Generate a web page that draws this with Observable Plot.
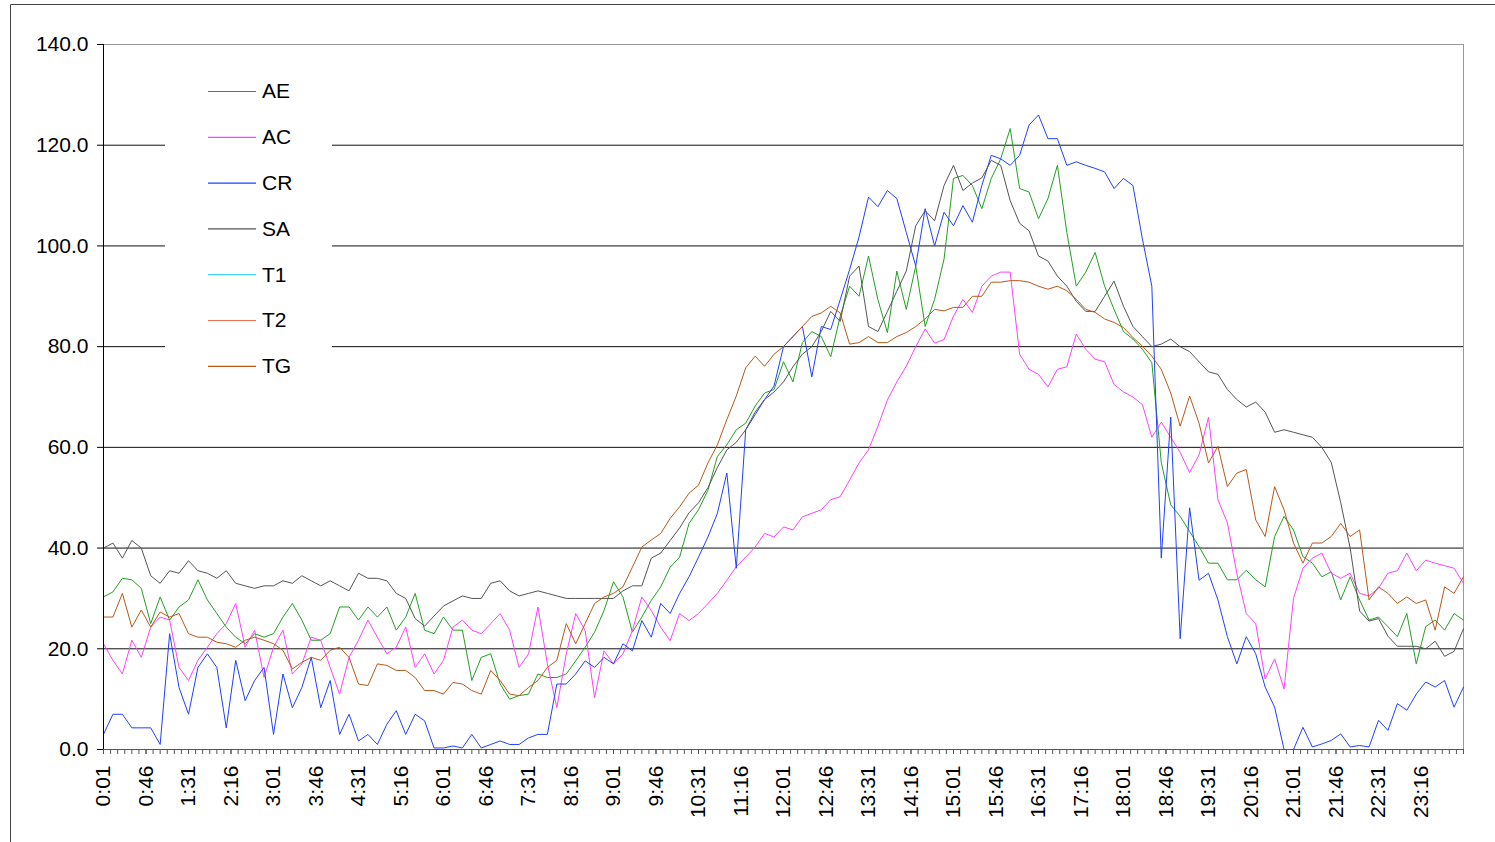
<!DOCTYPE html>
<html>
<head>
<meta charset="utf-8">
<script src="https://cdn.jsdelivr.net/npm/d3@7"></script>
<script src="https://cdn.jsdelivr.net/npm/@observablehq/plot@0.6"></script>
<style>
  html, body { margin: 0; padding: 0; background: #fff; }
  #chart { position: relative; width: 1495px; height: 842px; }
</style>
</head>
<body>
<div id="chart"></div>
<script>
// ---- Data (values every 10 minutes, from 0:01 to 24:01) ----
const seriesNames = ["AE", "AC", "CR", "SA", "T1", "T2", "TG"];
const seriesColors = ["#22a022", "#ff40ff", "#2040ff", "#555555", "#40d8ff", "#f07050", "#b8581a"];

const AE = [
  30.3, 31.3, 34, 33.7, 32, 25,
  30.3, 25.7, 28.3, 29.7, 33.7, 29.7,
  27, 24.3, 22.3, 21, 23, 22.3,
  23, 26.3, 29, 25.7, 21.7, 21.7,
  23, 28.3, 28.3, 25.7, 28.3, 26.3,
  28.3, 23.7, 26.3, 31, 23.7, 23,
  26.3, 23.7, 23.7, 13.7, 18.3, 19,
  13, 10, 10.7, 11, 15, 14.3,
  14.3, 15, 17.6, 20.3, 23.3, 27.6,
  33.3, 30.3, 23.3, 26.3, 29.6, 32.3,
  36.2, 38.2, 44.9, 47.6, 51.5, 58.2,
  60.5, 63.5, 64.8, 68.2, 70.8, 71.5,
  77, 73, 80.8, 83, 82, 78,
  86, 92, 90, 98, 89.3, 82.8,
  95, 87.4, 96, 84, 89.4, 97.4,
  113.4, 114, 112, 107.4, 113.4, 117.3,
  123.3, 111.4, 110.7, 105.4, 109.4, 116,
  102.7, 92, 94.8, 98.7, 92, 87.4,
  83, 81.5, 79.5, 76.8, 57, 48.6,
  46.3, 43.3, 40.3, 37, 37, 33.7,
  33.7, 35.6, 33.7, 32.3, 42.3, 46.3,
  43.6, 38.3, 37, 34.3, 35.3, 29.7,
  34.3, 29.7, 25.7, 26.3, 24.4, 22.4,
  27, 17, 24.4, 25.7, 23.7, 27,
  25.7
];

const AC = [
  21, 17.7, 15, 21.7, 18.3, 24.3,
  26.3, 25.7, 16.3, 13.7, 17.7, 20.3,
  23, 25, 29, 20.3, 23.7, 14.3,
  20.3, 23.7, 15, 17, 22.3, 21.7,
  16.3, 11, 18.3, 21.7, 25.7, 22.3,
  19, 20.3, 24.3, 16.3, 19, 15,
  17.7, 24.3, 25.7, 23.7, 23, 25,
  27, 23.7, 16.3, 19, 28.3, 17,
  8.3, 19, 27, 23.6, 10.3, 19.6,
  17, 19, 23.6, 30.3, 27.6, 24.3,
  21.6, 27, 25.6, 27, 29, 31,
  33.6, 36.3, 38.2, 40.2, 42.9, 42.2,
  44.2, 43.6, 46.2, 46.9, 47.6, 49.6,
  50.2, 53.5, 56.9, 59.5, 64.2, 69.4,
  73, 76.1, 80, 83.5, 80.7, 81.4,
  86.1, 89.4, 86.8, 92, 94, 94.8,
  94.8, 78.5, 75.5, 74.5, 72, 75.5,
  76, 82.5, 79.5, 77.5, 77, 72.5,
  71, 70, 68.5, 62, 65, 62,
  59, 55, 58.5, 66, 49.6, 45,
  35, 27, 25, 14, 18, 12,
  30, 36, 38, 39, 35, 34,
  35, 31, 30.5, 32, 35, 35.5,
  39, 35.5, 37.6, 37, 36.5, 36,
  33
];

const CR = [
  3, 7, 7, 4.3, 4.3, 4.3,
  1, 23, 12.3, 7, 16.3, 19,
  16.3, 4.3, 17.7, 9.7, 13.7, 16.3,
  3, 15, 8.3, 12.3, 18.3, 8.3,
  13.7, 3, 7, 1.7, 3, 1,
  5, 7.7, 3, 7, 5.7, 0.3,
  0.3, 0.7, 0.3, 3, 0.3, 1,
  1.7, 1, 1, 2.3, 3, 3,
  13, 13, 15, 17.6, 16.3, 18.3,
  17, 21, 19.6, 25.6, 22.3, 29,
  27, 31, 34.3, 38.2, 42.2, 46.9,
  54.9, 36, 63.5, 66.5, 69.5, 72.2,
  80, 82, 84, 74, 84, 83.4,
  89.3, 95.3, 101.8, 109.7, 107.8, 111,
  109.4, 102.7, 96, 107.4, 100, 106.7,
  104, 108, 104.7, 112, 118, 117.3,
  116, 118, 124, 126, 121.3, 121.3,
  116, 116.7, 116, 115.4, 114.7, 111.4,
  113.4, 112, 101.4, 92, 38, 66,
  22, 48, 33.6, 35, 29.7, 22.4,
  17, 22.4, 19, 12.4, 8.4, 0,
  0, 4.4, 0.5, 1.1, 1.8, 3.1,
  0.5, 0.8, 0.5, 5.8, 3.8, 9.1,
  7.8, 11, 13.4, 12.4, 13.7, 8.4,
  12.4
];

const SA = [
  40, 41, 38, 41.5, 40, 34.5,
  33, 35.5, 35, 37.5, 35.5, 35,
  34, 35.5, 33, 32.5, 32, 32.5,
  32.5, 33.5, 33, 34.5, 33.5, 32.5,
  33.5, 32.5, 31.5, 35, 34, 34,
  33.5, 31, 30, 26, 24.5, 26.5,
  28.5, 29.5, 30.5, 30, 30, 33,
  33.5, 31.5, 30.5, 31, 31.5, 31,
  30.5, 30, 30, 30, 30, 30,
  30, 31.5, 32.5, 32.5, 38, 39,
  41.5, 44, 47, 49, 52, 56,
  59.5, 61, 63.5, 67, 69.5, 71,
  73, 76, 78.5, 80, 83, 87,
  85, 94, 96, 84, 83, 87,
  91, 95, 104, 107, 105, 112,
  116, 111, 112.5, 113.5, 117, 116,
  109, 104.5, 103, 98, 97, 94,
  92, 89, 87, 87, 90, 93,
  88, 84, 82, 80, 80.5, 81.5,
  80, 79, 77, 75, 74.5, 71.5,
  69.5, 68, 69, 67, 63, 63.5,
  63, 62.5, 62, 60, 57, 49,
  40, 27.5, 25.5, 26, 22.5, 20.5,
  20.5, 20.5, 20, 21.5, 18.5, 19.5,
  24
];

const T1 = [];
const T2 = [];

const TG = [
  26.3, 26.3, 31, 24.3, 27.7, 24.3,
  27.3, 26.3, 27, 23, 22.3, 22.3,
  21.3, 21, 20.3, 21.7, 22.3, 21.7,
  21, 19.7, 16, 17.3, 18.3, 17.7,
  19.7, 20.3, 18.3, 13, 12.7, 17,
  16.7, 15.7, 15.7, 14.3, 11.7, 11.7,
  11, 13.3, 13, 11.7, 11, 15.7,
  13.7, 11, 10.7, 12.3, 13.7, 16.3,
  17.7, 25, 21, 25, 29, 30.3,
  31, 32.3, 36.2, 40.2, 41.6, 42.9,
  45.9, 48.2, 50.9, 52.5, 56.9, 60.5,
  65.5, 70.2, 75.8, 78.1, 76.1, 78.5,
  80, 82, 84, 86, 86.7, 88,
  86.7, 80.5, 80.8, 82, 80.8, 80.8,
  82, 82.8, 84, 85.5, 87.4, 87.1,
  87.8, 87.8, 90, 90, 92.8, 92.8,
  93.1, 93.1, 92.8, 92, 91.4, 92,
  91.1, 89.4, 87.4, 86.8, 85.5, 84.8,
  83.8, 81.8, 80.1, 78.1, 75.5, 70.8,
  64.2, 70.2, 64.8, 56.9, 60.2, 52.2,
  54.9, 55.6, 45.6, 42.3, 52.2, 47.6,
  41, 37, 41, 41, 42.3, 44.9,
  42.3, 43.6, 29.7, 32.3, 31, 29,
  30.3, 29, 29.7, 23.7, 32.3, 31,
  34.3
];

// x positions: minutes after midnight (0:01, 0:11, ... 24:01)
const times = d3.range(1, 1442, 10);
// tick labels every 45 minutes starting at 0:01, minor ticks every 7.5 minutes
const labelTicks = d3.range(1, 1441, 45);
const minorTicks = d3.range(1, 1441.01, 7.5);
const yTicks = [0, 20, 40, 60, 80, 100, 120, 140];

const seriesValues = {AE, AC, CR, SA, T1, T2, TG};
const rows = seriesNames.flatMap(name =>
  seriesValues[name].map((v, i) => ({series: name, t: times[i], v}))
);

const fmtTime = m => `${Math.floor(m / 60)}:${String(Math.round(m % 60)).padStart(2, "0")}`;

const W = 1495, H = 842;
const plot = Plot.plot({
  width: W,
  height: H,
  marginLeft: 103,
  marginRight: 32,
  marginTop: 44,
  marginBottom: 93,
  style: {fontFamily: "'Liberation Sans', Arial, sans-serif", fontSize: "21px", color: "#000", background: "#fff"},
  x: {domain: [1, 1441], label: null},
  y: {domain: [0, 140], label: null},
  color: {domain: seriesNames, range: seriesColors},
  marks: [
    Plot.gridY([20, 40, 60, 80, 100, 120], {stroke: "#111", strokeOpacity: 1}),
    Plot.ruleY([140], {stroke: "#9a9a9a"}),
    Plot.ruleX([1441], {stroke: "#9a9a9a"}),
    Plot.lineY(rows, {x: "t", y: "v", z: "series", stroke: "series", strokeWidth: 1, curve: "linear"}),
    Plot.ruleX([1], {stroke: "#000"}),
    Plot.ruleY([0], {stroke: "#555"}),
    Plot.axisY({ticks: yTicks, tickFormat: d3.format(".1f"), tickSize: 6, tickPadding: 9, stroke: "#000", fontSize: 21, label: null}),
    Plot.axisX({ticks: minorTicks, tickFormat: () => "", tickSize: 5, stroke: "#555", label: null}),
    Plot.axisX({ticks: labelTicks, tickFormat: fmtTime, tickRotate: -90, tickSize: 5, tickPadding: 11, stroke: "#555", fontSize: 21, label: null})
  ]
});

const svg = d3.select(plot);
// legend (white box over the gridlines)
const lg = svg.append("g").attr("class", "legend").attr("text-anchor", "start");
lg.append("rect").attr("x", 165).attr("y", 60).attr("width", 167).attr("height", 330).attr("fill", "#fff");
seriesNames.forEach((name, i) => {
  const y = 91 + i * 45.8;
  lg.append("line").attr("x1", 208).attr("x2", 256).attr("y1", y + 0.5).attr("y2", y + 0.5)
    .attr("stroke", seriesColors[i]).attr("stroke-width", 1.2);
  lg.append("text").attr("x", 262).attr("y", y).attr("dy", "0.35em")
    .attr("text-anchor", "start").attr("font-size", 21).attr("fill", "#000").text(name);
});
// outer chart frame (top and left edges visible)
svg.append("line").attr("x1", 10.5).attr("x2", W).attr("y1", 4.5).attr("y2", 4.5).attr("stroke", "#444");
svg.append("line").attr("x1", 10.5).attr("x2", 10.5).attr("y1", 4.5).attr("y2", H).attr("stroke", "#444");

document.getElementById("chart").appendChild(plot);
</script>
</body>
</html>
